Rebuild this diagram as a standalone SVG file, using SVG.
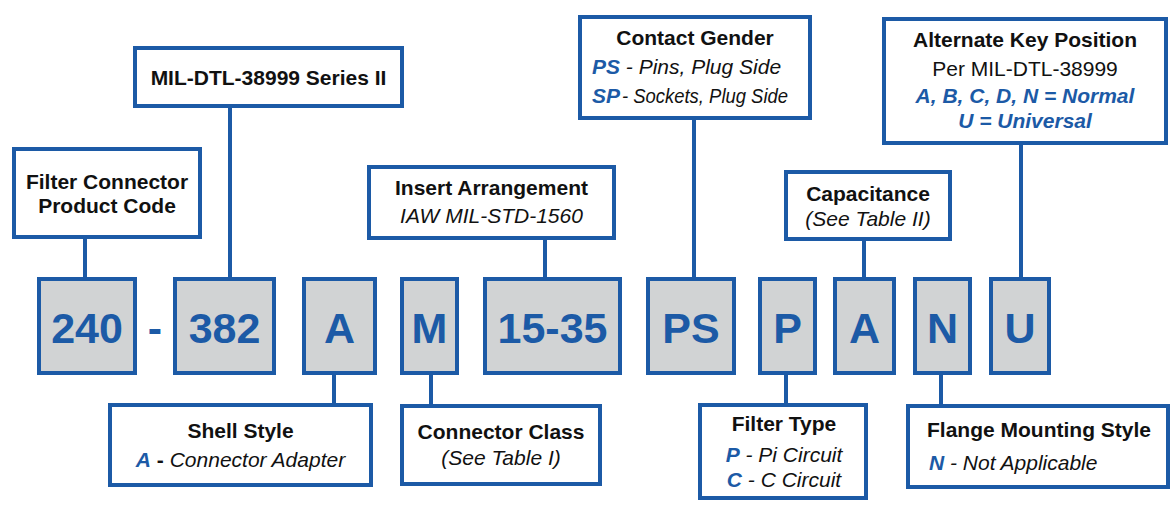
<svg xmlns="http://www.w3.org/2000/svg" width="1175" height="508" viewBox="0 0 1175 508">
<style>
.code{fill:#d1d3d4;stroke:#1c5aa6;stroke-width:4}
.lbl{fill:#ffffff;stroke:#1c5aa6;stroke-width:4}
.ct{font-family:"Liberation Sans",Arial,sans-serif;font-weight:bold;font-size:43px;fill:#1c5aa6;text-anchor:middle}
.t{font-family:"Liberation Sans",Arial,sans-serif;font-size:21px;fill:#111111}
.b{font-weight:bold}
.i{font-style:italic}
.bl{fill:#1c5aa6;font-weight:bold;font-style:italic}
.m{text-anchor:middle}
#connectors line{stroke:#1c5aa6;stroke-width:4}
</style>
<rect width="1175" height="508" fill="#ffffff"/>
<g id="connectors">
<line x1="85" y1="239" x2="85" y2="278"/>
<line x1="230" y1="107" x2="230" y2="278"/>
<line x1="545" y1="239" x2="545" y2="278"/>
<line x1="694" y1="119" x2="694" y2="278"/>
<line x1="864" y1="240" x2="864" y2="278"/>
<line x1="1021" y1="144" x2="1021" y2="278"/>
<line x1="334" y1="374" x2="334" y2="404"/>
<line x1="431" y1="374" x2="431" y2="405"/>
<line x1="786" y1="374" x2="786" y2="404"/>
<line x1="941" y1="374" x2="941" y2="405"/>
</g>
<g id="code-240"><rect class="code" x="39" y="279" width="96" height="94"/><text class="ct" x="87" y="343">240</text></g>
<g id="code-dash"><text class="ct" x="155" y="343">-</text></g>
<g id="code-382"><rect class="code" x="175" y="279" width="99" height="94"/><text class="ct" x="224.5" y="343">382</text></g>
<g id="code-A1"><rect class="code" x="304" y="279" width="71" height="94"/><text class="ct" x="339.5" y="343">A</text></g>
<g id="code-M"><rect class="code" x="402" y="279" width="55" height="94"/><text class="ct" x="429.5" y="343">M</text></g>
<g id="code-1535"><rect class="code" x="485" y="279" width="135" height="94"/><text class="ct" x="552.5" y="343">15-35</text></g>
<g id="code-PS"><rect class="code" x="648" y="279" width="86" height="94"/><text class="ct" x="691" y="343">PS</text></g>
<g id="code-P"><rect class="code" x="760" y="279" width="55" height="94"/><text class="ct" x="787.5" y="343">P</text></g>
<g id="code-A2"><rect class="code" x="835" y="279" width="59" height="94"/><text class="ct" x="864.5" y="343">A</text></g>
<g id="code-N"><rect class="code" x="915" y="279" width="55" height="94"/><text class="ct" x="942.5" y="343">N</text></g>
<g id="code-U"><rect class="code" x="991" y="279" width="58" height="94"/><text class="ct" x="1020" y="343">U</text></g>

<g id="lbl-product"><rect class="lbl" x="14" y="149" width="186" height="88"/>
<text class="t b m" x="107" y="189">Filter Connector</text>
<text class="t b m" x="107" y="213">Product Code</text></g>
<g id="lbl-series"><rect class="lbl" x="135" y="48" width="267" height="58"/>
<text class="t b m" x="268.5" y="85">MIL-DTL-38999 Series II</text></g>
<g id="lbl-insert"><rect class="lbl" x="369" y="167" width="245" height="71"/>
<text class="t b m" x="491.5" y="195">Insert Arrangement</text>
<text class="t i m" x="491.5" y="223">IAW MIL-STD-1560</text></g>
<g id="lbl-gender"><rect class="lbl" x="580" y="17" width="230" height="101"/>
<text class="t b m" x="695" y="45">Contact Gender</text>
<text class="t i" x="592" y="74"><tspan class="bl">PS</tspan> - Pins, Plug Side</text>
<text class="t bl" x="592" y="103">SP</text>
<text class="t i" x="622" y="103" textLength="166" lengthAdjust="spacingAndGlyphs">- Sockets, Plug Side</text></g>
<g id="lbl-capacitance"><rect class="lbl" x="786" y="172" width="164" height="67"/>
<text class="t b m" x="868" y="201">Capacitance</text>
<text class="t i m" x="868" y="226">(See Table II)</text></g>
<g id="lbl-altkey"><rect class="lbl" x="884" y="19" width="282" height="124"/>
<text class="t b m" x="1025" y="47">Alternate Key Position</text>
<text class="t m" x="1025" y="76">Per MIL-DTL-38999</text>
<text class="t bl m" x="1025" y="103">A, B, C, D, N = Normal</text>
<text class="t bl m" x="1025" y="128">U = Universal</text></g>
<g id="lbl-shell"><rect class="lbl" x="110" y="405" width="261" height="80"/>
<text class="t b m" x="240.5" y="438">Shell Style</text>
<text class="t i m" x="240.5" y="467"><tspan class="bl">A</tspan><tspan class="b" font-style="normal"> - </tspan>Connector Adapter</text></g>
<g id="lbl-class"><rect class="lbl" x="402" y="406" width="198" height="78"/>
<text class="t b m" x="501" y="439">Connector Class</text>
<text class="t i m" x="501" y="465">(See Table I)</text></g>
<g id="lbl-filter"><rect class="lbl" x="700" y="405" width="166" height="93"/>
<text class="t b m" x="784" y="431">Filter Type</text>
<text class="t i m" x="784" y="462"><tspan class="bl">P</tspan> - Pi Circuit</text>
<text class="t i m" x="784" y="487"><tspan class="bl">C</tspan> - C Circuit</text></g>
<g id="lbl-flange"><rect class="lbl" x="908" y="406" width="260" height="81"/>
<text class="t b m" x="1039" y="437">Flange Mounting Style</text>
<text class="t i" x="929" y="470"><tspan class="bl">N</tspan> - Not Applicable</text></g>
</svg>
